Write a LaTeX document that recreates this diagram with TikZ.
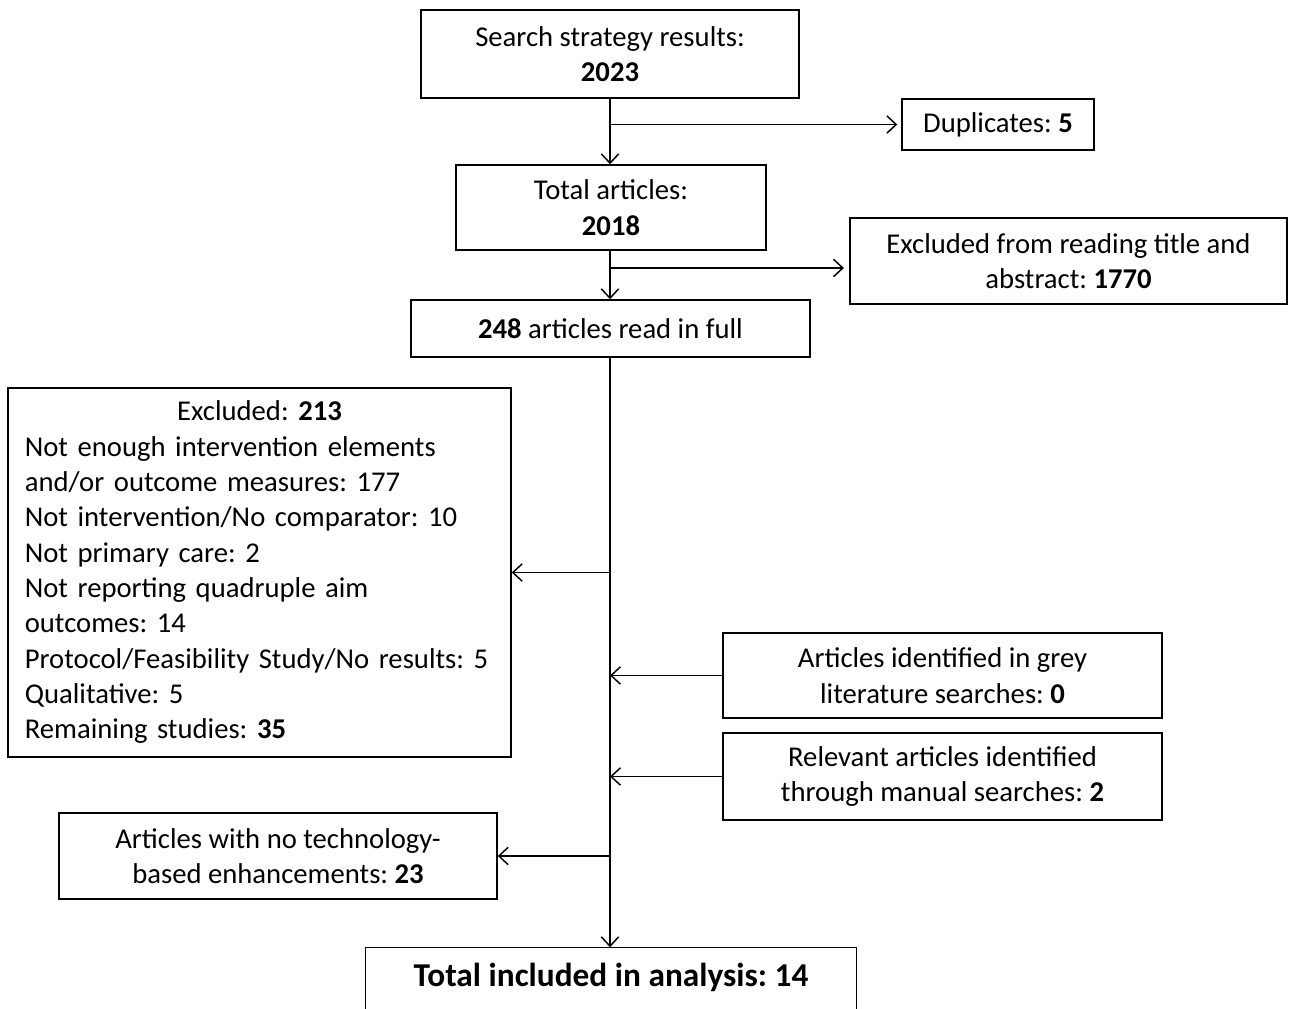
\documentclass[tikz,border=0pt]{standalone}
\usepackage{fontspec}
\setmainfont{Carlito}
\usetikzlibrary{arrows.meta,calc}
\frenchspacing
\begin{document}
\begin{tikzpicture}[x=0.75pt,y=-0.75pt,
  box/.style={draw, line width=1.1pt, align=center, inner sep=0pt,
    font=\fontsize{21.5}{26.5}\selectfont\frenchspacing},
  arr/.style={line width=1.1pt, -{Straight Barb[length=7pt,width=13pt,line width=1.1pt]}}]
\useasboundingbox (0,0) rectangle (1289,1009);
\clip (0,0) rectangle (1289,1009);
\node[box, minimum width=283.5pt, minimum height=66pt] (search) at (610,54)
  {Search strategy results:\\\textbf{2023}};
\node[box, minimum width=144pt, minimum height=38.25pt] (dup) at (998,124.5)
  {Duplicates: \textbf{5}};
\node[box, minimum width=232.5pt, minimum height=63.75pt] (total) at (611,207.5)
  {Total articles:\\\textbf{2018}};
\node[box, minimum width=327.75pt, minimum height=64.5pt] (excta) at (1068.5,261)
  {Excluded from reading title and\\abstract: \textbf{1770}};
\node[box, minimum width=299.25pt, minimum height=42.75pt] (read) at (610.5,328.5)
  {\textbf{248} articles read in full};
\node[box, minimum width=377.25pt, minimum height=276.75pt, text width=352pt, align=left] (exc) at (259.5,572.5)
  {\makebox[352pt][c]{Excluded: \textbf{213}}\\
   Not enough intervention elements\\
   and/or outcome measures: 177\\
   Not intervention/No comparator: 10\\
   Not primary care: 2\\
   Not reporting quadruple aim\\
   outcomes: 14\\
   Protocol/Feasibility Study/No results: 5\\
   Qualitative: 5\\
   Remaining studies: \textbf{35}};
\node[box, minimum width=329.25pt, minimum height=63.75pt] (grey) at (942.5,675.5)
  {Articles identified in grey\\literature searches: \textbf{0}};
\node[box, minimum width=329.25pt, minimum height=65.25pt] (manual) at (942.5,776.5)
  {Relevant articles identified\\through manual searches: \textbf{2}};
\node[box, minimum width=328.5pt, minimum height=64.5pt] (notech) at (278,856)
  {Articles with no technology-\\based enhancements: \textbf{23}};
\node[box, draw=none, minimum width=367.5pt, minimum height=43.5pt,
  font=\fontsize{25}{30}\selectfont\bfseries] (final) at (611,977)
  {Total included in analysis: 14};
\draw[line width=1.1pt] (final.west |- 0,1015) -- (final.north west) -- (final.north east) -- (final.east |- 0,1015);
% trunk arrows
\draw[arr] (search.south) -- (search.south |- total.north);
\draw[arr, shorten >=3pt] (search.south |- dup.west) -- (dup.west);
\draw[arr] (search.south |- total.south) -- (search.south |- read.north);
\draw[arr, shorten >=4pt] (search.south |- 0,268) -- (excta.west |- 0,268);
\draw[arr] (search.south |- read.south) -- (search.south |- final.north);
\draw[arr] (search.south |- exc.east) -- (exc.east);
\draw[arr] (search.south |- notech.east) -- (notech.east);
\draw[arr] (grey.west) -- (search.south |- grey.west);
\draw[arr] (manual.west) -- (search.south |- manual.west);
\end{tikzpicture}
\end{document}
